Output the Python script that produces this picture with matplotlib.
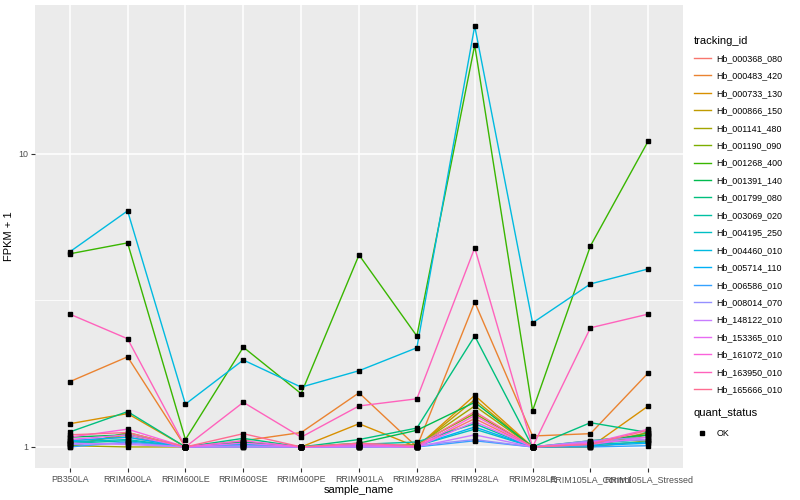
import numpy as np
import matplotlib
matplotlib.use('Agg')
import matplotlib.pyplot as plt
from matplotlib.lines import Line2D

plt.rcParams['font.family'] = ['Liberation Sans', 'DejaVu Sans']

samples = ['PB350LA', 'RRIM600LA', 'RRIM600LE', 'RRIM600SE', 'RRIM600PE', 'RRIM901LA',
           'RRIM928BA', 'RRIM928LA', 'RRIM928LE', 'RRIM105LA_Control', 'RRIM105LA_Stressed']

tracking_ids = ['Hb_000368_080', 'Hb_000483_420', 'Hb_000733_130', 'Hb_000866_150',
                'Hb_001141_480', 'Hb_001190_090', 'Hb_001268_400', 'Hb_001391_140',
                'Hb_001799_080', 'Hb_003069_020', 'Hb_004195_250', 'Hb_004460_010',
                'Hb_005714_110', 'Hb_006586_010', 'Hb_008014_070', 'Hb_148122_010',
                'Hb_153365_010', 'Hb_161072_010', 'Hb_163950_010', 'Hb_165666_010']

# ggplot2 default hue palette for 20 levels
colors = ['#F8766D', '#EA8331', '#D89000', '#C09B00', '#A3A500', '#7CAE00', '#39B600',
          '#00BB4E', '#00BF7D', '#00C1A3', '#00BFC4', '#00BAE0', '#00B0F6', '#35A2FF',
          '#9590FF', '#C77CFF', '#E76BF3', '#FA62DB', '#FF62BC', '#FF6C91']

# FPKM + 1, one row per tracking_id, columns follow samples
fpkm1 = [
    [1.05, 1.08, 1.00, 1.03, 1.00, 1.02, 1.00, 1.25, 1.00, 1.02, 1.12],
    [1.67, 2.03, 1.00, 1.05, 1.12, 1.53, 1.00, 3.12, 1.09, 1.11, 1.79],
    [1.20, 1.30, 1.00, 1.04, 1.00, 1.20, 1.00, 1.50, 1.00, 1.00, 1.38],
    [1.02, 1.10, 1.00, 1.02, 1.00, 1.01, 1.00, 1.45, 1.00, 1.00, 1.05],
    [1.01, 1.00, 1.00, 1.01, 1.00, 1.00, 1.01, 1.38, 1.00, 1.01, 1.10],
    [1.00, 1.12, 1.00, 1.00, 1.00, 1.00, 1.02, 1.30, 1.00, 1.00, 1.12],
    [4.56, 4.97, 1.06, 2.19, 1.52, 4.52, 2.39, 23.5, 1.33, 4.85, 11.07],
    [1.08, 1.10, 1.00, 1.04, 1.00, 1.03, 1.14, 1.42, 1.00, 1.05, 1.10],
    [1.125, 1.32, 1.00, 1.07, 1.00, 1.06, 1.16, 2.39, 1.00, 1.21, 1.12],
    [1.03, 1.05, 1.00, 1.02, 1.00, 1.02, 1.04, 1.20, 1.00, 1.03, 1.06],
    [1.04, 1.06, 1.00, 1.01, 1.00, 1.01, 1.01, 1.15, 1.00, 1.02, 1.04],
    [4.63, 6.39, 1.40, 1.98, 1.60, 1.82, 2.18, 27.3, 2.65, 3.60, 4.05],
    [1.05, 1.08, 1.00, 1.02, 1.00, 1.00, 1.01, 1.17, 1.00, 1.01, 1.03],
    [1.00, 1.04, 1.00, 1.00, 1.00, 1.00, 1.00, 1.05, 1.00, 1.00, 1.01],
    [1.02, 1.03, 1.00, 1.01, 1.00, 1.00, 1.01, 1.06, 1.00, 1.05, 1.08],
    [1.03, 1.02, 1.00, 1.00, 1.00, 1.00, 1.00, 1.10, 1.00, 1.04, 1.06],
    [1.06, 1.10, 1.00, 1.03, 1.00, 1.01, 1.00, 1.22, 1.00, 1.02, 1.08],
    [1.08, 1.15, 1.00, 1.05, 1.00, 1.02, 1.00, 1.28, 1.00, 1.03, 1.15],
    [2.84, 2.34, 1.00, 1.42, 1.08, 1.38, 1.46, 4.78, 1.00, 2.55, 2.84],
    [1.10, 1.12, 1.00, 1.11, 1.00, 1.03, 1.01, 1.32, 1.00, 1.02, 1.14],
]

##################################################
fig = plt.figure(figsize=(8, 5), dpi=100)
ax = fig.add_axes([35/800, 32/500, (683-35)/800, (495-32)/500])
ax.set_facecolor('#EBEBEB')

x = np.arange(1, len(samples) + 1)
for tid, col, vals in zip(tracking_ids, colors, fpkm1):
    ax.plot(x, vals, color=col, lw=1.0, zorder=2)
for vals in fpkm1:
    ax.plot(x, vals, ls='none', marker='s', ms=2.4, color='black', zorder=3)

ax.set_yscale('log')
# ggplot style expansion: 0.6 units on discrete x, 5% on log y
ax.set_xlim(1 - 0.6, len(samples) + 0.6)
lmin = np.log10(np.min(fpkm1))
lmax = np.log10(np.max(fpkm1))
pad = 0.05 * (lmax - lmin)
ax.set_ylim(10**(lmin - pad), 10**(lmax + pad))

ax.set_xticks(x)
ax.set_xticklabels(samples)
ax.set_yticks([1, 10])
ax.set_yticklabels(['1', '10'])
ax.set_yticks([10**0.5], minor=True)
ax.yaxis.set_minor_formatter(plt.NullFormatter())
ax.tick_params(axis='both', which='major', length=3, width=0.8, color='#333333',
               labelsize=6.4, labelcolor='#4D4D4D', pad=2)
ax.tick_params(axis='y', which='minor', length=0)
ax.grid(True, which='major', color='white', lw=1.1, zorder=0)
ax.grid(True, which='minor', axis='y', color='white', lw=0.55, zorder=0)
ax.set_axisbelow(True)
for s in ax.spines.values():
    s.set_visible(False)

ax.set_xlabel('sample_name', fontsize=8, labelpad=1)
ax.set_ylabel('FPKM + 1', fontsize=8, labelpad=3)

# legends
h1 = [Line2D([], [], color=c, lw=1.0) for c in colors]
leg1 = fig.legend(h1, tracking_ids, title='tracking_id', loc='upper left',
                  bbox_to_anchor=(690/800, 1 - 32/500), frameon=False,
                  fontsize=6.4, title_fontsize=8, handlelength=2.0,
                  labelspacing=0.95, handletextpad=0.6, borderaxespad=0)
leg1._legend_box.align = 'left'
h2 = [Line2D([], [], ls='none', marker='s', ms=2.4, color='black')]
leg2 = fig.legend(h2, ['OK'], title='quant_status', loc='upper left',
                  bbox_to_anchor=(690/800, 1 - 404/500), frameon=False,
                  fontsize=6.4, title_fontsize=8, handlelength=2.0,
                  labelspacing=1.3, handletextpad=0.6, borderaxespad=0)
leg2._legend_box.align = 'left'

fig.savefig('out.png', dpi=100)
